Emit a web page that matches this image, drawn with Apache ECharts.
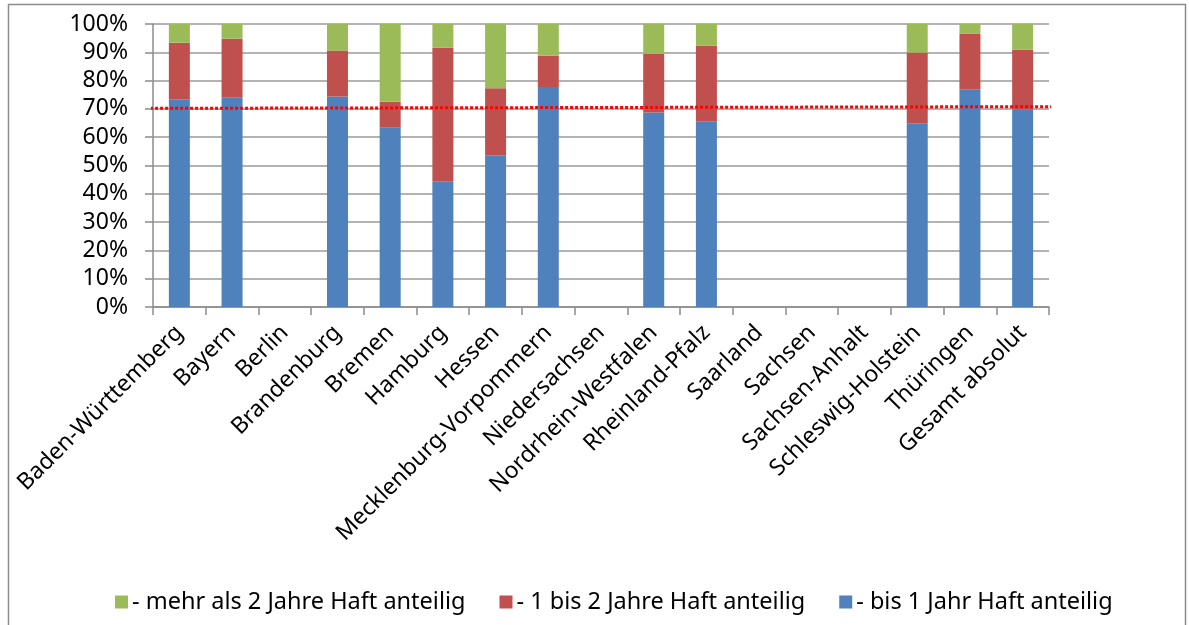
<!DOCTYPE html>
<html>
<head>
<meta charset="utf-8">
<script src="https://cdn.jsdelivr.net/npm/echarts@6/dist/echarts.min.js"></script>
<style>
html, body { margin: 0; padding: 0; background: #fff; }
#box { width: 1189px; height: 625px; }
</style>
</head>
<body>
<div id="box"></div>
<script>
// Kategorien (Bundesländer)
const categories = ["Baden-Württemberg", "Bayern", "Berlin", "Brandenburg", "Bremen", "Hamburg", "Hessen",
	"Mecklenburg-Vorpommern", "Niedersachsen", "Nordrhein-Westfalen", "Rheinland-Pfalz", "Saarland",
	"Sachsen", "Sachsen-Anhalt", "Schleswig-Holstein", "Thüringen", "Gesamt absolut"]
// Anteile in %
const bis1Jahr = [73.4, 74.1, null, 74.4, 63.5, 44.4, 53.6, 77.7, null, 68.7, 65.6, null, null, null, 64.9, 76.9, 69.9]
const bis2Jahre = [20.0, 20.7, null, 16.2, 9.0, 47.2, 23.7, 11.1, null, 20.8, 26.7, null, null, null, 25.0, 19.6, 21.0]
const mehrAls2 = [6.6, 5.2, null, 9.4, 27.5, 8.4, 22.7, 11.2, null, 10.5, 7.7, null, null, null, 10.1, 3.5, 9.1]
// rote gepunktete Linie (Start / Ende)
const lineX = [-0.15, 17.32]
const lineY = [70.2, 70.8]

const names = ["- mehr als 2 Jahre Haft anteilig", "- 1 bis 2 Jahre Haft anteilig", "- bis 1 Jahr Haft anteilig"]
const font = "'Noto Sans', 'Open Sans', sans-serif"

let myCharts = echarts.init(document.getElementById("box"))
let option = {
	animation: false,
	textStyle: { fontFamily: font },
	graphic: [{
		type: "rect",
		shape: { x: 8.5, y: 4.5, width: 1177, height: 660 },
		style: { fill: "none", stroke: "#8c8c8c", lineWidth: 1.5 },
		silent: true,
	}],
	legend: {
		data: names,
		left: 110,
		top: 585,
		itemWidth: 13,
		itemHeight: 13,
		itemGap: 34,
		icon: "rect",
		textStyle: { fontSize: 23.5, color: "#000", fontFamily: font, padding: [0, 0, 0, -1] },
	},
	grid: { left: 153, right: 140, top: 24, bottom: 318 },
	xAxis: [{
		type: "category",
		data: categories,
		axisLine: { lineStyle: { color: "#8c8c8c", width: 1.5 } },
		axisTick: { show: true, length: 8, lineStyle: { color: "#8c8c8c", width: 1.5 } },
		axisLabel: { rotate: 45, interval: 0, fontSize: 23, color: "#000", margin: 22, fontFamily: font },
	}, {
		type: "value",
		min: 0,
		max: 17,
		show: false,
	}],
	yAxis: {
		type: "value",
		min: 0,
		max: 100,
		interval: 10,
		axisLine: { show: true, lineStyle: { color: "#8c8c8c", width: 1.5 } },
		axisTick: { show: true, length: 8, lineStyle: { color: "#8c8c8c", width: 1.5 } },
		splitLine: { lineStyle: { color: "#9a9a9a", width: 1.5 } },
		axisLabel: { formatter: "{value}%", fontSize: 23, color: "#000", margin: 25, fontFamily: font },
	},
	series: [
		{ name: names[2], type: "bar", stack: "a", barWidth: 21, data: bis1Jahr, itemStyle: { color: "#4f81bd" } },
		{ name: names[1], type: "bar", stack: "a", barWidth: 21, data: bis2Jahre, itemStyle: { color: "#c0504d" } },
		{ name: names[0], type: "bar", stack: "a", barWidth: 21, data: mehrAls2, itemStyle: { color: "#9bbb59" } },
		{
			type: "line",
			xAxisIndex: 1,
			data: lineX.map((x, i) => [x, lineY[i]]),
			symbol: "none",
			clip: false,
			z: 5,
			lineStyle: { color: "#ff0000", width: 3, type: [3, 2] },
		},
	],
}
myCharts.setOption(option)
</script>
</body>
</html>
